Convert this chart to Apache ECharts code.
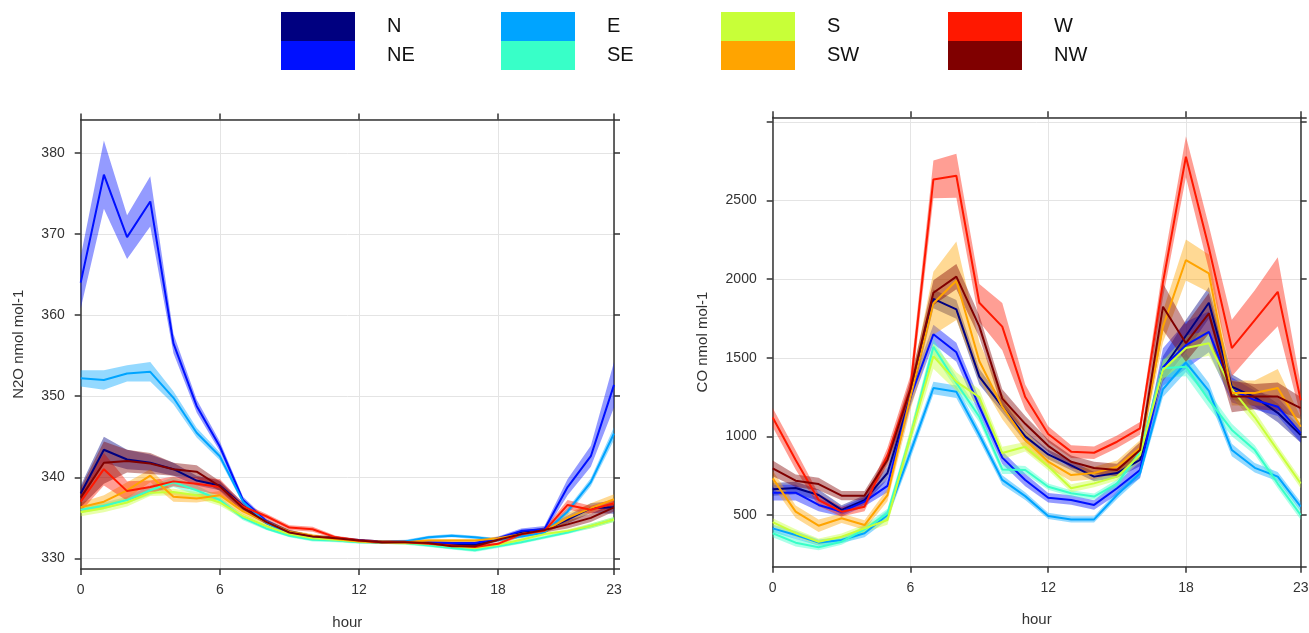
<!DOCTYPE html>
<html>
<head>
<meta charset="utf-8">
<title>N2O and CO diurnal cycle by wind sector</title>
<script src="https://cdn.jsdelivr.net/npm/echarts@6/dist/echarts.min.js"></script>
<style>
    html, body { margin: 0; padding: 0; background: #fff; }
    #container { width: 1309px; height: 633px; }
</style>
</head>
<body>
<div id="container"></div>
<script>
var hours = ['0', '1', '2', '3', '4', '5', '6', '7', '8', '9', '10', '11',
    '12', '13', '14', '15', '16', '17', '18', '19', '20', '21', '22', '23'];
var sectors = ['N', 'NE', 'E', 'SE', 'S', 'SW', 'W', 'NW'];
var sectorColors = ['#000080', '#0010ff', '#00a4ff', '#38ffc8', '#c8ff38', '#ffa400', '#ff1800', '#800000'];

// N2O (nmol mol-1), mean by hour, and half width of the shaded band
var n2oN = [338.0, 343.4, 342.2, 341.8, 341.0, 339.6, 339.0, 336.5, 334.5, 333.3, 332.7, 332.5, 332.2, 332.0, 332.0, 331.9, 331.7, 331.7, 332.3, 333.2, 333.5, 334.8, 336.2, 336.3];
var n2oNE = [364.0, 377.3, 369.6, 374.0, 356.5, 348.8, 343.8, 337.2, 334.6, 333.2, 332.6, 332.4, 332.2, 332.0, 332.0, 332.0, 331.9, 331.9, 332.5, 333.4, 333.6, 338.8, 342.6, 351.4];
var n2oE = [352.2, 352.0, 352.8, 353.0, 349.8, 345.5, 342.6, 337.0, 334.4, 333.0, 332.5, 332.3, 332.1, 332.0, 332.1, 332.6, 332.8, 332.6, 332.3, 332.7, 333.2, 335.8, 339.4, 345.4];
var n2oSE = [336.0, 336.5, 337.2, 338.4, 339.4, 338.4, 337.2, 335.0, 333.7, 332.8, 332.3, 332.2, 332.0, 332.0, 331.9, 331.6, 331.3, 331.0, 331.5, 332.0, 332.6, 333.2, 334.0, 334.8];
var n2oS = [335.7, 336.2, 336.9, 338.1, 338.2, 337.8, 336.9, 335.2, 334.0, 333.0, 332.5, 332.3, 332.1, 332.0, 331.9, 331.8, 331.5, 331.3, 331.7, 332.3, 333.0, 333.4, 334.0, 334.8];
var n2oSW = [336.3, 337.0, 338.4, 340.2, 337.6, 337.4, 337.8, 335.8, 334.5, 333.3, 332.8, 332.4, 332.1, 332.0, 332.0, 332.2, 332.2, 332.2, 332.5, 333.0, 333.4, 335.0, 336.2, 337.3];
var n2oW = [337.0, 341.0, 338.3, 338.8, 339.5, 339.2, 338.8, 336.4, 335.2, 333.8, 333.6, 332.6, 332.2, 332.0, 332.0, 331.8, 331.6, 331.4, 331.8, 333.0, 333.4, 336.6, 336.0, 336.8];
var n2oNW = [337.5, 341.8, 342.0, 341.7, 341.0, 340.7, 338.9, 336.2, 334.5, 333.2, 332.7, 332.5, 332.2, 332.0, 332.0, 331.9, 331.5, 331.5, 332.3, 333.0, 333.5, 334.2, 335.0, 336.3];

var n2oErrN = [1.0, 1.6, 1.2, 1.0, 0.8, 0.6, 0.6, 0.4, 0.3, 0.2, 0.2, 0.2, 0.2, 0.2, 0.2, 0.2, 0.2, 0.2, 0.2, 0.2, 0.3, 0.5, 0.6, 0.8];
var n2oErrNE = [3.2, 4.2, 2.7, 3.1, 1.2, 0.8, 0.6, 0.4, 0.3, 0.2, 0.2, 0.2, 0.2, 0.2, 0.2, 0.2, 0.2, 0.2, 0.2, 0.3, 0.4, 1.0, 1.3, 2.8];
var n2oErrE = [1.0, 1.2, 1.0, 1.2, 0.8, 0.6, 0.5, 0.3, 0.2, 0.2, 0.2, 0.2, 0.2, 0.2, 0.2, 0.2, 0.2, 0.2, 0.2, 0.2, 0.2, 0.4, 0.5, 0.8];
var n2oErrSE = [0.4, 0.4, 0.4, 0.6, 0.6, 0.6, 0.4, 0.3, 0.2, 0.2, 0.2, 0.2, 0.2, 0.2, 0.2, 0.2, 0.2, 0.2, 0.2, 0.2, 0.2, 0.2, 0.3, 0.3];
var n2oErrS = [0.5, 0.5, 0.5, 0.4, 0.4, 0.4, 0.4, 0.3, 0.2, 0.2, 0.2, 0.2, 0.2, 0.2, 0.2, 0.2, 0.2, 0.2, 0.2, 0.2, 0.2, 0.2, 0.3, 0.3];
var n2oErrSW = [0.6, 0.8, 1.0, 0.8, 0.6, 0.5, 0.5, 0.4, 0.3, 0.2, 0.2, 0.2, 0.2, 0.2, 0.2, 0.2, 0.2, 0.2, 0.2, 0.2, 0.3, 0.6, 0.6, 0.6];
var n2oErrW = [1.2, 2.0, 1.2, 0.8, 0.6, 0.8, 1.0, 0.4, 0.3, 0.3, 0.3, 0.2, 0.2, 0.2, 0.2, 0.2, 0.2, 0.2, 0.2, 0.3, 0.3, 0.6, 0.5, 0.5];
var n2oErrNW = [1.2, 2.6, 1.4, 1.3, 0.8, 0.8, 0.6, 0.4, 0.3, 0.3, 0.2, 0.2, 0.2, 0.2, 0.2, 0.2, 0.2, 0.2, 0.2, 0.3, 0.3, 0.5, 0.5, 0.5];

// CO (nmol mol-1)
var coN = [663, 672, 627, 532, 595, 767, 1250, 1875, 1808, 1380, 1190, 1000, 885, 815, 744, 767, 850, 1430, 1640, 1850, 1316, 1250, 1150, 1009];
var coNE = [642, 642, 564, 521, 585, 685, 1250, 1650, 1535, 1190, 865, 723, 610, 595, 564, 670, 786, 1440, 1580, 1665, 1295, 1231, 1189, 1021];
var coE = [415, 373, 324, 341, 384, 500, 900, 1308, 1284, 1010, 723, 620, 494, 472, 472, 627, 765, 1300, 1470, 1290, 913, 800, 744, 553];
var coSE = [384, 324, 295, 330, 409, 510, 1000, 1570, 1340, 1125, 790, 786, 680, 638, 617, 700, 900, 1434, 1443, 1231, 1041, 913, 700, 500];
var coS = [454, 384, 330, 362, 415, 468, 1000, 1510, 1348, 1250, 894, 934, 810, 670, 701, 744, 880, 1422, 1562, 1593, 1300, 1120, 910, 700];
var coSW = [733, 521, 432, 479, 436, 627, 1250, 1847, 1990, 1480, 1189, 977, 840, 754, 767, 807, 926, 1698, 2122, 2037, 1276, 1276, 1308, 1062];
var coW = [1120, 850, 595, 521, 553, 880, 1308, 2635, 2658, 1850, 1698, 1250, 1015, 903, 896, 966, 1051, 1980, 2779, 2200, 1562, 1740, 1920, 1230];
var coNW = [797, 718, 697, 623, 623, 850, 1300, 1914, 2016, 1700, 1240, 1080, 940, 839, 799, 786, 913, 1825, 1593, 1783, 1253, 1253, 1253, 1180];

var coErrN = [40, 40, 35, 30, 30, 40, 50, 60, 60, 50, 40, 35, 30, 30, 30, 30, 40, 80, 100, 100, 80, 60, 60, 50];
var coErrNE = [50, 50, 40, 30, 30, 40, 60, 60, 60, 50, 40, 40, 30, 30, 30, 40, 50, 120, 150, 130, 80, 60, 60, 60];
var coErrE = [25, 25, 20, 20, 25, 30, 40, 40, 40, 35, 30, 25, 20, 20, 20, 25, 30, 50, 60, 50, 40, 30, 30, 30];
var coErrSE = [25, 25, 20, 20, 25, 30, 40, 50, 40, 35, 30, 25, 20, 20, 20, 25, 30, 60, 60, 50, 40, 30, 30, 30];
var coErrS = [25, 25, 20, 20, 25, 30, 50, 80, 60, 50, 40, 30, 25, 25, 25, 25, 30, 60, 80, 80, 50, 40, 30, 30];
var coErrSW = [50, 40, 40, 30, 30, 40, 80, 200, 250, 120, 80, 60, 40, 40, 40, 40, 50, 100, 130, 120, 80, 80, 120, 60];
var coErrW = [60, 60, 40, 30, 30, 50, 80, 120, 140, 120, 150, 80, 50, 40, 40, 40, 40, 100, 130, 140, 180, 190, 220, 100];
var coErrNW = [50, 40, 40, 30, 30, 40, 60, 80, 80, 70, 60, 50, 40, 40, 40, 40, 50, 150, 120, 130, 100, 80, 90, 70];

var n2oValues = [n2oN, n2oNE, n2oE, n2oSE, n2oS, n2oSW, n2oW, n2oNW];
var n2oErrors = [n2oErrN, n2oErrNE, n2oErrE, n2oErrSE, n2oErrS, n2oErrSW, n2oErrW, n2oErrNW];
var coValues = [coN, coNE, coE, coSE, coS, coSW, coW, coNW];
var coErrors = [coErrN, coErrNE, coErrE, coErrSE, coErrS, coErrSW, coErrW, coErrNW];

var chart = echarts.init(document.getElementById('container'));
var font = 'Liberation Sans, Arial, sans-serif';
var axisColor = '#333';

// ticks only at 0, 6, 12, 18 and 23
function hourTick(index) {
    return index % 6 === 0 || index === 23;
}

function xAxisDef(grid, top) {
    return {
        type: 'category',
        gridIndex: grid,
        data: hours,
        boundaryGap: false,
        position: top ? 'top' : 'bottom',
        name: top ? '' : 'hour',
        nameLocation: 'middle',
        nameGap: 46,
        nameTextStyle: { fontFamily: font, fontSize: 15, color: axisColor },
        axisLine: { lineStyle: { color: axisColor, width: 1.5 } },
        axisTick: { interval: hourTick, length: 6, lineStyle: { color: axisColor, width: 1.5 } },
        axisLabel: { show: !top, interval: hourTick, margin: 14, fontFamily: font, fontSize: 14, color: axisColor },
        splitLine: { show: !top, interval: hourTick, lineStyle: { color: '#e4e4e4', width: 1 } }
    };
}

function yAxisDef(grid, right, min, max, name, gap) {
    return {
        type: 'value',
        gridIndex: grid,
        position: right ? 'right' : 'left',
        min: min,
        max: max,
        splitNumber: 5,
        name: right ? '' : name,
        nameLocation: 'middle',
        nameGap: gap,
        nameTextStyle: { fontFamily: font, fontSize: 15, color: axisColor },
        axisLine: { show: true, lineStyle: { color: axisColor, width: 1.5 } },
        axisTick: { show: true, length: 6, lineStyle: { color: axisColor, width: 1.5 } },
        axisLabel: {
            show: !right,
            showMinLabel: false,
            showMaxLabel: false,
            margin: 16,
            fontFamily: font,
            fontSize: 14,
            color: axisColor,
            formatter: function (v) {
                return v >= 3000 ? '' : String(v);
            }
        },
        splitLine: { show: !right, lineStyle: { color: '#e4e4e4', width: 1 } }
    };
}

var series = [];
function addBands(axisIdx, values, errors) {
    for (var k = 0; k < sectors.length; k++) {
        var lo = values[k].map(function (v, i) { return v - errors[k][i]; });
        var width = errors[k].map(function (e) { return 2 * e; });
        var stackId = 'band' + axisIdx + sectors[k];
        series.push({
            type: 'line', name: sectors[k] + ' lo', xAxisIndex: axisIdx, yAxisIndex: axisIdx,
            data: lo, stack: stackId, symbol: 'none', silent: true, z: 1,
            lineStyle: { opacity: 0 }
        });
        series.push({
            type: 'line', name: sectors[k] + ' band', xAxisIndex: axisIdx, yAxisIndex: axisIdx,
            data: width, stack: stackId, symbol: 'none', silent: true, z: 1,
            lineStyle: { opacity: 0 },
            areaStyle: { color: sectorColors[k], opacity: 0.42 }
        });
    }
}
function addLines(axisIdx, values) {
    for (var k = 0; k < sectors.length; k++) {
        series.push({
            type: 'line', name: sectors[k], xAxisIndex: axisIdx, yAxisIndex: axisIdx,
            data: values[k], symbol: 'none', z: 2,
            color: sectorColors[k],
            itemStyle: { color: sectorColors[k] },
            lineStyle: { color: sectorColors[k], width: 2 },
            emphasis: { disabled: true }
        });
    }
}
addBands(0, n2oValues, n2oErrors);
addBands(2, coValues, coErrors);
addLines(0, n2oValues);
addLines(2, coValues);

var legendLeft = [281, 501, 721, 948];
var legends = [];
for (var p = 0; p < 4; p++) {
    legends.push({
        orient: 'vertical',
        left: legendLeft[p],
        top: 12,
        padding: 0,
        itemGap: 0,
        itemWidth: 74,
        itemHeight: 29,
        icon: 'rect',
        selectedMode: false,
        data: [sectors[2 * p], sectors[2 * p + 1]],
        textStyle: { fontFamily: font, fontSize: 20, color: '#111', padding: [0, 0, 0, 27] }
    });
}

option = {
    animation: false,
    backgroundColor: '#fff',
    legend: legends,
    grid: [
        { left: 80.7, top: 119.5, right: 695, bottom: 64, outerBoundsMode: 'none' },
        { left: 772.7, top: 117.3, right: 8.3, bottom: 66.3, outerBoundsMode: 'none' }
    ],
    xAxis: [xAxisDef(0, false), xAxisDef(0, true), xAxisDef(1, false), xAxisDef(1, true)],
    yAxis: [
        yAxisDef(0, false, 328.7, 384.1, 'N2O nmol mol-1', 54),
        yAxisDef(0, true, 328.7, 384.1, '', 0),
        yAxisDef(1, false, 171, 3030, 'CO nmol mol-1', 62),
        yAxisDef(1, true, 171, 3030, '', 0)
    ],
    series: series
};
chart.setOption(option);
</script>
</body>
</html>
